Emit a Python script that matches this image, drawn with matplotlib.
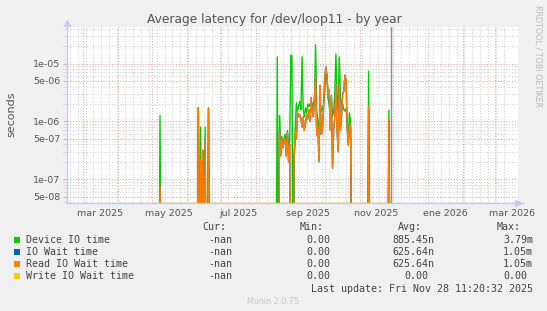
import numpy as np
import pandas as pd
import matplotlib
matplotlib.use("Agg")
from matplotlib import pyplot as plt
import matplotlib.dates as mdates
from matplotlib.ticker import FixedLocator, NullFormatter
from matplotlib.patches import Rectangle

# ---- data (seconds) ----
data_start = "2025-05-07"
data_end = "2025-11-28"

spike_dates = ["2025-05-08", "2025-06-11", "2025-06-13", "2025-06-15", "2025-06-17",
               "2025-06-20", "2025-11-09", "2025-11-27"]
spike_device = [1.26e-6, 1.7e-6, 8e-7, 3e-7, 8e-7, 1.7e-6, 7.4e-6, 1.57e-6]
spike_read = [7.7e-8, 1.7e-6, 2.2e-7, 3.2e-7, 5e-7, 1.7e-6, 1.8e-6, 1.04e-6]

cluster_start = "2025-08-19"
cluster_device = [
    0, 1.3e-5, 0, 1.25e-6, 3e-7, 5.5e-7, 4e-7, 5e-7, 6e-7, 3e-7,
    7e-7, 3.5e-7, 4.5e-7, 1.4e-5, 1.35e-5, 0, 3e-7, 8e-7, 2.1e-6, 1.5e-6,
    1.9e-6, 2.2e-6, 1.6e-6, 1.3e-5, 1.6e-6, 1.2e-6, 1.7e-6, 1.4e-6, 2e-6, 1.8e-6,
    2e-6, 1.9e-6, 1.8e-6, 2.1e-6, 2.3e-6, 2.1e-5, 1.5e-6, 1.0e-6, 6e-7, 2e-6,
    1.5e-6, 1.6e-6, 2.0e-6, 3e-6, 8e-6, 6.5e-6, 2.5e-6, 2.0e-6, 1.1e-6, 2.5e-6,
    1.2e-6, 1.5e-6, 3e-6, 1.45e-5, 2.7e-6, 1.5e-6, 1.3e-5, 2.5e-6, 2.0e-6, 2.0e-6,
    1.6e-6, 1.5e-6, 1.7e-6, 1.0e-6, 5e-7, 1.4e-6, 1.0e-6, 0, 0]
cluster_read = [
    0, 0, 0, 6.8e-7, 2.5e-7, 5e-7, 3.5e-7, 4.5e-7, 5e-7, 2.5e-7,
    6.5e-7, 2e-7, 4e-7, 0, 0, 0, 2.5e-7, 6e-7, 5e-7, 1.4e-6,
    1.2e-6, 1.3e-6, 1.1e-6, 8e-7, 1.2e-6, 7e-7, 9e-7, 1.3e-6, 1.1e-6, 1.6e-6,
    1.0e-6, 2.6e-6, 1.5e-6, 1.2e-6, 2.6e-6, 6.3e-6, 5.8e-7, 8e-7, 2e-7, 4.2e-6,
    6e-7, 7e-7, 1.6e-6, 5e-6, 8.7e-6, 6.3e-6, 3e-6, 3.5e-6, 7e-7, 2.8e-6,
    1.55e-7, 7e-7, 1.2e-6, 4.3e-6, 7e-7, 3e-7, 4.5e-6, 7e-7, 1.2e-6, 3e-6,
    3.3e-6, 6.3e-6, 5.2e-6, 7.7e-7, 3.9e-7, 9e-7, 8e-7, 0, 0]

series_names = ["Device IO time", "IO Wait time", "Read IO Wait time", "Write IO Wait time"]
series_colors = ["#00CC00", "#0066B3", "#FF8000", "#FFCC00"]
cur_vals = ["-nan", "-nan", "-nan", "-nan"]
min_vals = ["0.00", "0.00", "0.00", "0.00"]
avg_vals = ["885.45n", "625.64n", "625.64n", "0.00"]
max_vals = ["3.79m", "1.05m", "1.05m", "0.00"]

x_labels = ["mar 2025", "may 2025", "jul 2025", "sep 2025", "nov 2025", "ene 2026", "mar 2026"]
x_label_dates = ["2025-03-16", "2025-05-16", "2025-07-16", "2025-09-16", "2025-11-16",
                 "2026-01-16", "2026-03-16"]
y_labels_at = [5e-8, 1e-7, 5e-7, 1e-6, 5e-6, 1e-5]

# ---- build daily series ----
days = pd.date_range(data_start, data_end, freq="D")
device = pd.Series(0.0, index=days)
read = pd.Series(0.0, index=days)
for d, g, r in zip(spike_dates, spike_device, spike_read):
    device[pd.Timestamp(d)] = g
    read[pd.Timestamp(d)] = r
cdays = pd.date_range(cluster_start, periods=len(cluster_device), freq="D")
device[cdays] = cluster_device
read[cdays] = cluster_read
iowait = read.copy()
write = pd.Series(0.0, index=days)

ymin, ymax = 3.9e-8, 4.27e-5
W, H = 547, 311

fig = plt.figure(figsize=(W / 100, H / 100), dpi=100, facecolor="#F0F0F0")
L, R, T, B = 67, 518, 27, 203
ax = fig.add_axes([L / W, 1 - B / H, (R - L) / W, (B - T) / H])
ax.set_facecolor("white")

# zero samples drop below the bottom of the log axis
for s, c in zip([device, iowait, read], series_colors[:3]):
    ax.plot(s.index, np.where(s.values > 0, s.values, ymin / 100), color=c, lw=1.0, zorder=3)
ax.plot(write.index, np.maximum(write.values, ymin * 1.02), color=series_colors[3], lw=1.0,
        zorder=3)

ax.axvline(pd.Timestamp("2025-11-28 11:20"), color="#909090", lw=1.0, zorder=4)

ax.set_yscale("log")
ax.set_ylim(ymin, ymax)
ax.set_xlim(pd.Timestamp("2025-02-14 12:00"), pd.Timestamp("2026-03-21 12:00"))

# grid
major_red = "#E8A8A8"
minor_gray = "#D4D4D4"
dash = (0, (1, 1.5))
for m in pd.date_range("2025-03-01", "2026-03-01", freq="MS"):
    ax.axvline(m, color=major_red, lw=0.8, ls=dash, zorder=1)
ax.xaxis.set_minor_locator(mdates.WeekdayLocator(byweekday=mdates.MO))
ax.grid(True, which="minor", axis="x", color=minor_gray, lw=0.8, ls=dash, zorder=0)

ax.xaxis.set_major_locator(FixedLocator(mdates.date2num(pd.to_datetime(x_label_dates))))
ax.set_xticklabels(x_labels)
ax.tick_params(axis="x", which="both", length=0, pad=4, labelsize=6.8, labelcolor="#555555")

ax.yaxis.set_major_locator(FixedLocator(y_labels_at))
ax.set_yticklabels(["%.0e" % v for v in y_labels_at])
minor_y = [k * 10.0 ** e for e in range(-8, -4) for k in (2, 3, 4, 6, 7, 8, 9)]
ax.yaxis.set_minor_locator(FixedLocator(minor_y))
ax.yaxis.set_minor_formatter(NullFormatter())
ax.grid(True, which="major", axis="y", color=major_red, lw=0.8, ls=dash, zorder=1)
ax.grid(True, which="minor", axis="y", color=minor_gray, lw=0.8, ls=dash, zorder=0)
ax.tick_params(axis="y", which="major", length=3, color=major_red, pad=2,
               labelsize=6.8, labelcolor="#555555")
ax.tick_params(axis="y", which="minor", length=3, color=minor_gray)

for sp in ["top", "right"]:
    ax.spines[sp].set_visible(False)
for sp in ["left", "bottom"]:
    ax.spines[sp].set_color("#C8C8F0")
    ax.spines[sp].set_linewidth(1.0)
ax.plot([0], [1.02], marker="^", ms=4, color="#C8C8F0", transform=ax.transAxes, clip_on=False)
ax.plot([1.0], [0], marker=">", ms=4, color="#C8C8F0", transform=ax.transAxes, clip_on=False)
ax.plot([1.0, 1.01], [0, 0], color="#C8C8F0", lw=1.0, transform=ax.transAxes, clip_on=False)

# ---- texts ----
def fx(x):
    return x / W

def fy(y):
    return 1 - y / H

fig.text(fx(274), fy(19.5), "Average latency for /dev/loop11 - by year", ha="center",
         va="center", fontsize=8.8, color="#555555")
fig.text(fx(11), fy(114), "seconds", rotation=90, ha="center", va="center",
         fontsize=8, color="#555555")
fig.text(fx(538), fy(5), "RRDTOOL / TOBI OETIKER", rotation=270, ha="center", va="top",
         fontsize=5.8, color="#BBBBBB")

mono = dict(family="DejaVu Sans Mono", fontsize=7.2, color="#444444", va="center")
charw = 5.98
header_y = 227.5
fig.text(fx(226), fy(header_y), "Cur:", ha="right", **mono)
fig.text(fx(324), fy(header_y), "Min:", ha="right", **mono)
fig.text(fx(422), fy(header_y), "Avg:", ha="right", **mono)
fig.text(fx(521), fy(header_y), "Max:", ha="right", **mono)

def right_edge(col, s):
    return col if s[-1].isalpha() else col - charw

row_y = [239.8, 251.9, 264.0, 276.2]
for i, name in enumerate(series_names):
    y = row_y[i]
    fig.add_artist(Rectangle((fx(14), fy(y + 3)), 5.5 / W, 6 / H, transform=fig.transFigure,
                             facecolor=series_colors[i], edgecolor="none"))
    fig.text(fx(26), fy(y), name, ha="left", **mono)
    fig.text(fx(232), fy(y), cur_vals[i], ha="right", **mono)
    fig.text(fx(right_edge(336, min_vals[i])), fy(y), min_vals[i], ha="right", **mono)
    fig.text(fx(right_edge(434.5, avg_vals[i])), fy(y), avg_vals[i], ha="right", **mono)
    fig.text(fx(right_edge(533, max_vals[i])), fy(y), max_vals[i], ha="right", **mono)

fig.text(fx(533), fy(288.5), "Last update: Fri Nov 28 11:20:32 2025", ha="right", **mono)
fig.text(fx(273), fy(301.5), "Munin 2.0.75", ha="center", va="center", fontsize=5.8,
         color="#C8C8C8")

fig.savefig("out.png", dpi=100, facecolor=fig.get_facecolor())
